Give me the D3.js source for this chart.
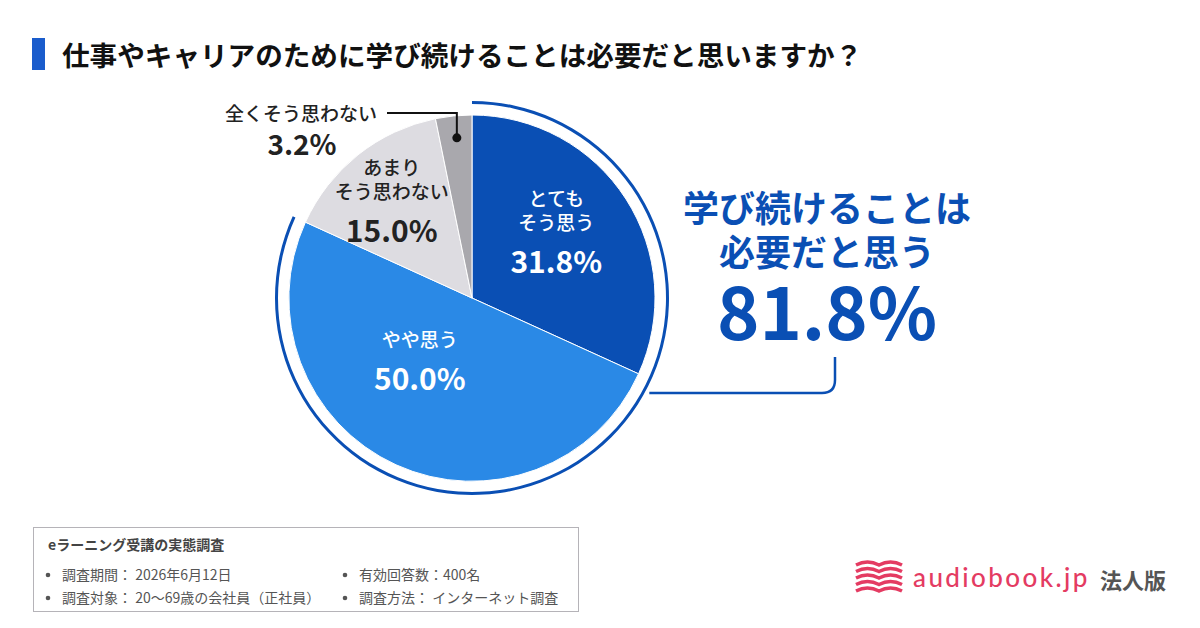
<!DOCTYPE html>
<html>
<head>
<meta charset="utf-8">
<script src="https://cdn.jsdelivr.net/npm/d3@7"></script>
<style>
  html, body { margin: 0; padding: 0; background: #fff; }
  svg { display: block; font-family: "Noto Sans CJK JP", "Noto Sans", sans-serif; }
</style>
</head>
<body>
<svg id="chart" width="1200" height="628"></svg>
<script>
// answers, clockwise from 12 o'clock
const categories = ['とてもそう思う', 'やや思う', 'あまりそう思わない', '全くそう思わない'];
const labelLines = [['とても', 'そう思う'], ['やや思う'], ['あまり', 'そう思わない'], ['全くそう思わない']];
const values = [31.8, 50.0, 15.0, 3.2];
const positiveTotal = 81.8;
const title = '仕事やキャリアのために学び続けることは必要だと思いますか？';
const surveyName = 'eラーニング受講の実態調査';
const surveyLeft = ['調査期間： 2026年6月12日', '調査対象： 20～69歳の会社員（正社員）'];
const surveyRight = ['有効回答数：400名', '調査方法： インターネット調査'];

const blue = '#0a4fb4';
const color = d3.scaleOrdinal()
  .domain(categories)
  .range(['#0a4fb4', '#2a89e6', '#dddce1', '#a9a8ad']);

const svg = d3.select('#chart');

// title
svg.append('rect').attr('x', 32).attr('y', 38).attr('width', 13).attr('height', 32).attr('fill', '#1a5ccc');
svg.append('text')
  .attr('x', 62).attr('y', 66)
  .attr('font-size', 27.6).attr('font-weight', 700).attr('fill', '#111')
  .text(title);

// pie
const cx = 472, cy = 298, r = 183;
const g = svg.append('g').attr('transform', `translate(${cx},${cy})`);
const pie = d3.pie().sort(null).value(d => d.v);
const arcs = pie(categories.map((c, i) => ({ c, v: values[i], i })));
const arc = d3.arc().innerRadius(0).outerRadius(r);

g.selectAll('path.slice')
  .data(arcs)
  .enter()
  .append('path')
  .attr('class', 'slice')
  .attr('d', arc)
  .attr('fill', d => color(d.data.c))
  .attr('stroke', '#fff')
  .attr('stroke-width', 1);

// bracket ring over the positive answers
const posEnd = positiveTotal / 100 * 2 * Math.PI;
g.append('path')
  .attr('d', d3.arc().innerRadius(r + 11).outerRadius(r + 14).startAngle(0).endAngle(posEnd)())
  .attr('fill', blue);

// connector from ring to the total
svg.append('path')
  .attr('d', `M${cx + (r + 12) * Math.sin(2.0)},393 H822 Q835,393 835,380 V357`)
  .attr('fill', 'none').attr('stroke', blue).attr('stroke-width', 2.5);

// slice labels: [radius, angle-nudge in degrees] of the percent baseline
const labelLayout = [[88, 16], [106, 5], [98, -16.5]];
const textColor = ['#fff', '#fff', '#222'];
arcs.slice(0, 3).forEach((d, i) => {
  const a = (d.startAngle + d.endAngle) / 2 + labelLayout[i][1] * Math.PI / 180;
  const x = labelLayout[i][0] * Math.sin(a);
  const y = -labelLayout[i][0] * Math.cos(a);
  const lines = labelLines[i];
  const t = g.append('text').attr('text-anchor', 'middle').attr('fill', textColor[i]);
  lines.forEach((ln, k) => {
    t.append('tspan').attr('x', x).attr('y', y - 43 - (lines.length - 1 - k) * 24)
      .attr('font-size', 19).attr('font-weight', 500).text(ln);
  });
  t.append('tspan').attr('x', x).attr('y', y)
    .attr('font-size', 30).attr('font-weight', 700).text(values[i].toFixed(1) + '%');
});

// small slice: leader line outside
const small = arcs[3];
const sa = (small.startAngle + small.endAngle) / 2;
const dotX = cx + (r - 22) * Math.sin(sa) + 1;
const dotY = cy - (r - 22) * Math.cos(sa);
svg.append('path')
  .attr('d', `M387,113 H${dotX} V${dotY}`)
  .attr('fill', 'none').attr('stroke', '#111').attr('stroke-width', 2);
svg.append('circle').attr('cx', dotX).attr('cy', dotY).attr('r', 4.5).attr('fill', '#111');
svg.append('text').attr('x', 225).attr('y', 121)
  .attr('font-size', 19).attr('font-weight', 500).attr('fill', '#222')
  .text(labelLines[3][0]);
svg.append('text').attr('x', 302).attr('y', 155).attr('text-anchor', 'middle')
  .attr('font-size', 28).attr('font-weight', 700).attr('fill', '#222')
  .text(values[3].toFixed(1) + '%');

// total callout
const callout = svg.append('text').attr('text-anchor', 'middle').attr('fill', blue).attr('font-weight', 700);
callout.append('tspan').attr('x', 827).attr('y', 222).attr('font-size', 36).text('学び続けることは');
callout.append('tspan').attr('x', 827).attr('y', 266).attr('font-size', 36).text('必要だと思う');
callout.append('tspan').attr('x', 827).attr('y', 340).attr('font-size', 72).text(positiveTotal.toFixed(1) + '%');

// survey box
svg.append('rect').attr('x', 33.5).attr('y', 527.5).attr('width', 545).attr('height', 84)
  .attr('fill', '#fff').attr('stroke', '#b5b3b8').attr('stroke-width', 1);
svg.append('text').attr('x', 48).attr('y', 550)
  .attr('font-size', 14).attr('font-weight', 700).attr('fill', '#444').text(surveyName);
[[surveyLeft, 47], [surveyRight, 344]].forEach(([rows, x0]) => {
  rows.forEach((row, k) => {
    const y = 580 + k * 23;
    svg.append('circle').attr('cx', x0 + 1).attr('cy', y - 5).attr('r', 2.3).attr('fill', '#555');
    svg.append('text').attr('x', x0 + 15).attr('y', y)
      .attr('font-size', 14).attr('fill', '#555').text(row);
  });
});

// logo
const pink = '#e43b62';
const logo = svg.append('g').attr('transform', 'translate(856,565)');
for (let k = 0; k < 5; k++) {
  logo.append('path')
    .attr('d', `M0,${k * 6.5} q11.5,-6 23,0 q11.5,-6 23,0`)
    .attr('fill', 'none').attr('stroke', pink).attr('stroke-width', 3.4);
}
svg.append('text').attr('x', 913).attr('y', 587)
  .attr('font-family', 'Lato, "Noto Sans", sans-serif')
  .attr('font-size', 26).attr('font-weight', 500).attr('letter-spacing', 2.4)
  .attr('fill', pink).text('audiobook.jp');
svg.append('text').attr('x', 1100).attr('y', 589)
  .attr('font-size', 22).attr('font-weight', 700).attr('fill', '#555').text('法人版');
</script>
</body>
</html>
